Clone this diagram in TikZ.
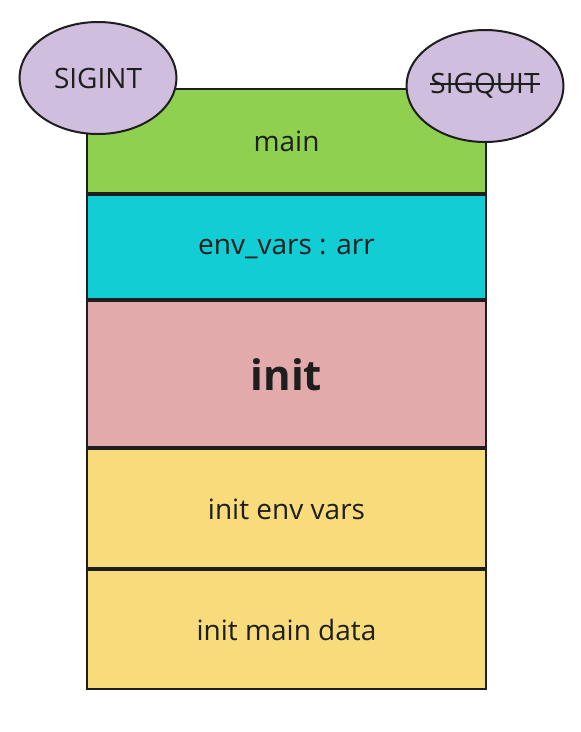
\documentclass[tikz,border=0pt]{standalone}
\usepackage{fontspec}
\setmainfont{Open Sans}
\usetikzlibrary{positioning,shapes.geometric}

\definecolor{inkdark}{HTML}{1E1E1E}
\definecolor{mainGreen}{HTML}{90D050}
\definecolor{envCyan}{HTML}{12CDD4}
\definecolor{initPink}{HTML}{E2AAAB}
\definecolor{stepYellow}{HTML}{F8DB7A}
\definecolor{sigLilac}{HTML}{CFBEDD}

\newsavebox\strikebox
\newcommand\strikeword[1]{\sbox\strikebox{#1}\rlap{\rule[0.33em]{\wd\strikebox}{1.6pt}}\usebox\strikebox}

\tikzset{
	frame/.style={draw=inkdark, line width=2pt, minimum width=399pt, inner sep=0pt, text depth=0pt, text=inkdark, font=\fontsize{28}{32}\selectfont},
	signal/.style={ellipse, draw=inkdark, line width=2pt, fill=sigLilac, minimum width=157pt, minimum height=112pt, inner sep=0pt, text=inkdark, font=\fontsize{28}{32}\selectfont}
}

\begin{document}
\begin{tikzpicture}[x=1pt,y=1pt]
				\useasboundingbox (0,0) rectangle (581,-732);
				\node[frame, fill=mainGreen, minimum height=103.5pt] (main) at (286.5,-141) {main};
				\node[frame, fill=envCyan, minimum height=104.5pt, below=0pt of main] (envvars) {env\_vars : arr};
				\node[frame, fill=initPink, minimum height=146pt, below=0pt of envvars, font=\fontsize{42}{48}\selectfont\bfseries] (init) {init};
				\node[frame, fill=stepYellow, minimum height=119pt, below=0pt of init] (initenv) {init env vars};
				\node[frame, fill=stepYellow, minimum height=119pt, below=0pt of initenv] (initmain) {init main data};
				
				\node[signal] (sigint) at (98,-78) {SIGINT};
				\node[signal] (sigquit) at (485,-86) {\strikeword{SIGQUIT}};
			\end{tikzpicture}
\end{document}
